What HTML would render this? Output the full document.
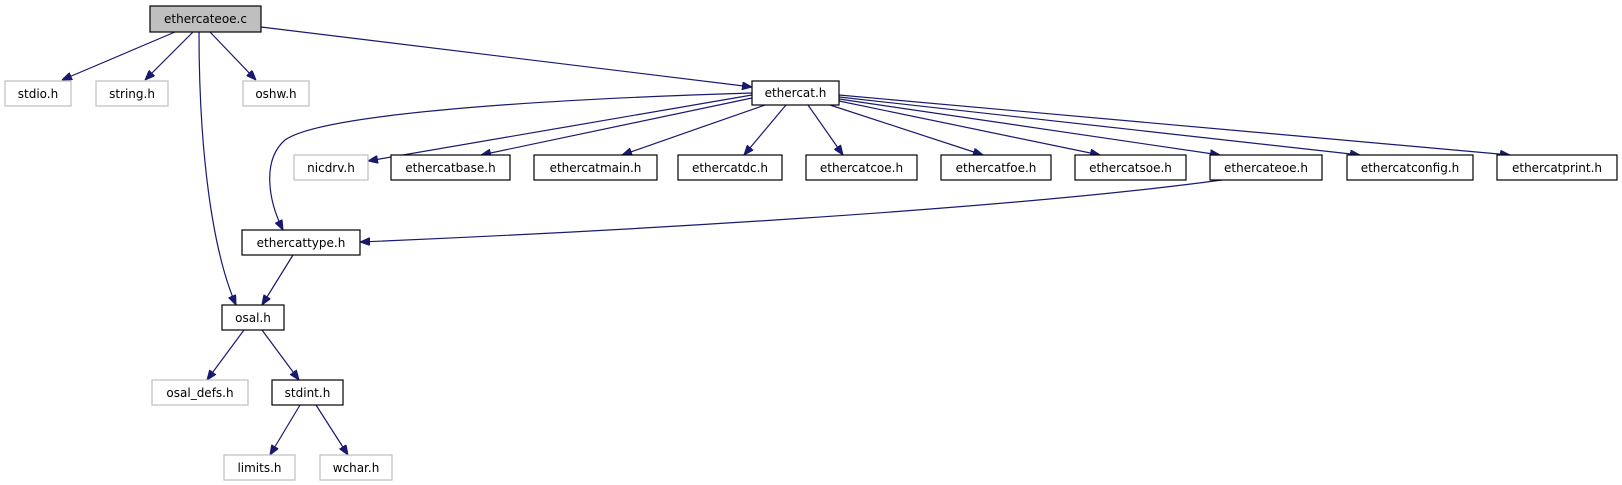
<!DOCTYPE html>
<html><head><meta charset="utf-8"><style>
html,body{margin:0;padding:0;background:#fff;width:1622px;height:485px;overflow:hidden}
svg{display:block}
text{font-family:"DejaVu Sans","Liberation Sans",sans-serif;font-size:12px;fill:#000}
</style></head><body>
<svg width="1622" height="485" viewBox="0 0 1622 485" xmlns="http://www.w3.org/2000/svg">
<defs>
<marker id="a" viewBox="0 0 10 8" refX="10" refY="4" markerWidth="10" markerHeight="8" markerUnits="userSpaceOnUse" orient="auto">
<path d="M0,0 L10,4 L0,8 z" fill="#191970" stroke="#191970"/>
</marker>
</defs>
<g fill="none" stroke="#191970" stroke-width="1.2" marker-end="url(#a)">
<path d="M175,32 L62,80"/>
<path d="M193,32 L145,80"/>
<path d="M210,32 L256,80"/>
<path d="M199,32 C199,150 212,250 236,305"/>
<path d="M261,27 L752,87"/>
<path d="M752,93 C520,100 320,115 285,140 C262,160 268,200 283,230"/>
<path d="M752,95 L368,161"/>
<path d="M752,98 L481,155"/>
<path d="M765,105 L622,155"/>
<path d="M786,105 L744,155"/>
<path d="M808,105 L843,155"/>
<path d="M830,105 L983,155"/>
<path d="M839,101 L1100,155"/>
<path d="M839,99 L1220,155"/>
<path d="M839,97 L1360,155"/>
<path d="M839,95 L1510,155"/>
<path d="M1222,180 C1000,210 600,232 360,242"/>
<path d="M293,255 L262,305"/>
<path d="M244,330 L207,380"/>
<path d="M262,330 L299,380"/>
<path d="M300,405 L270,455"/>
<path d="M316,405 L348,455"/>
</g>
<g stroke-width="1.2">
<rect x="150" y="6" width="111" height="26" fill="#bfbfbf" stroke="#000"/>
<g fill="#fff" stroke="#bfbfbf">
<rect x="5" y="81" width="66" height="25"/>
<rect x="96" y="81" width="72" height="25"/>
<rect x="243" y="81" width="66" height="25"/>
<rect x="294" y="155" width="74" height="25"/>
<rect x="152" y="380" width="96" height="25"/>
<rect x="224" y="455" width="71" height="25"/>
<rect x="320" y="455" width="72" height="25"/>
</g>
<g fill="#fff" stroke="#000">
<rect x="752" y="81" width="87" height="24"/>
<rect x="391" y="155" width="119" height="25"/>
<rect x="534" y="155" width="123" height="25"/>
<rect x="678" y="155" width="104" height="25"/>
<rect x="806" y="155" width="111" height="25"/>
<rect x="941" y="155" width="110" height="25"/>
<rect x="1075" y="155" width="111" height="25"/>
<rect x="1210" y="155" width="112" height="25"/>
<rect x="1347" y="155" width="126" height="25"/>
<rect x="1497" y="155" width="120" height="25"/>
<rect x="242" y="230" width="118" height="25"/>
<rect x="222" y="305" width="62" height="25"/>
<rect x="272" y="380" width="71" height="25"/>
</g>
</g>
<g text-anchor="middle">
<text x="205.5" y="23">ethercateoe.c</text>
<text x="38" y="98">stdio.h</text>
<text x="132" y="98">string.h</text>
<text x="276" y="98">oshw.h</text>
<text x="795.5" y="97">ethercat.h</text>
<text x="331" y="172">nicdrv.h</text>
<text x="450.5" y="172">ethercatbase.h</text>
<text x="595.5" y="172">ethercatmain.h</text>
<text x="730" y="172">ethercatdc.h</text>
<text x="861.5" y="172">ethercatcoe.h</text>
<text x="996" y="172">ethercatfoe.h</text>
<text x="1130.5" y="172">ethercatsoe.h</text>
<text x="1266" y="172">ethercateoe.h</text>
<text x="1410" y="172">ethercatconfig.h</text>
<text x="1557" y="172">ethercatprint.h</text>
<text x="301" y="247">ethercattype.h</text>
<text x="253" y="322">osal.h</text>
<text x="200" y="397">osal_defs.h</text>
<text x="307.5" y="397">stdint.h</text>
<text x="259.5" y="472">limits.h</text>
<text x="356" y="472">wchar.h</text>
</g>
</svg>
</body></html>
